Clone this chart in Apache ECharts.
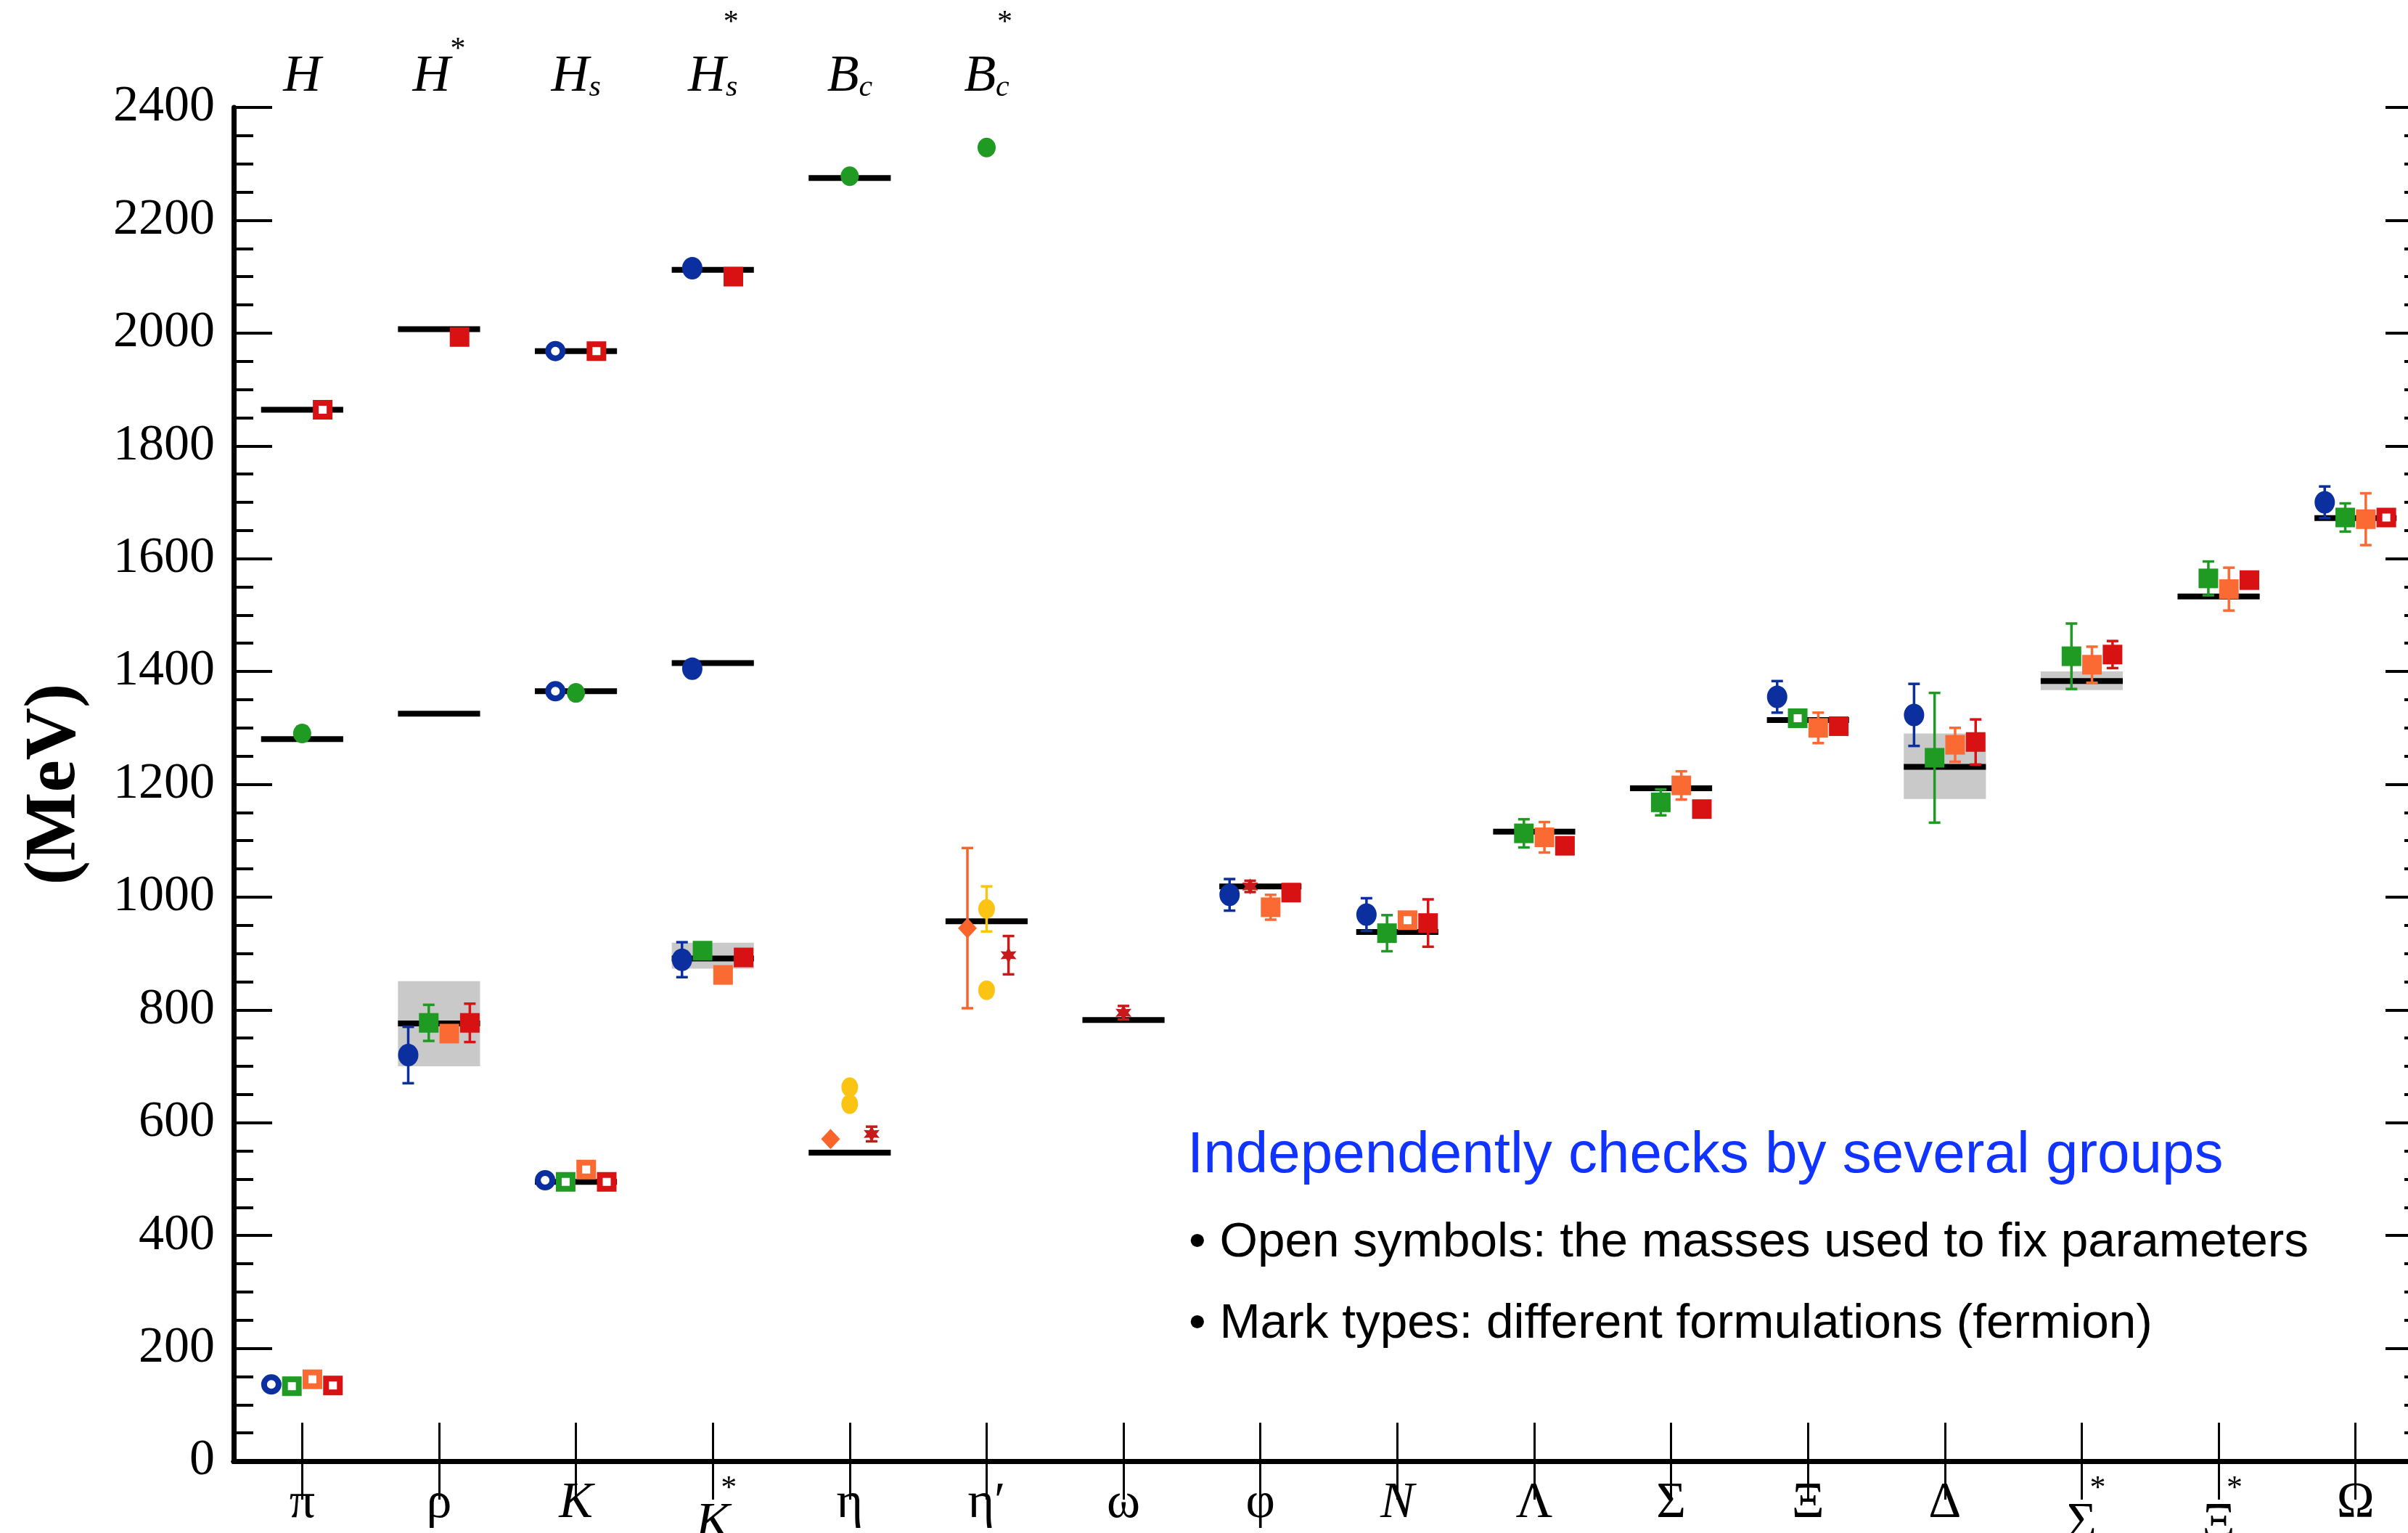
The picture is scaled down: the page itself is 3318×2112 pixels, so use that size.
<!DOCTYPE html>
<html>
<head>
  <meta charset="utf-8">
  <title>Hadron spectrum</title>
  <script src="https://cdn.jsdelivr.net/npm/echarts@6/dist/echarts.min.js"></script>
  <style>
    html, body { margin: 0; padding: 0; background: #fff; }
    #chart { width: 3318px; height: 2112px; }
  </style>
</head>
<body>
  <div id="chart"></div>
  <script>
    // bottom axis: light hadrons
    const catNames = ['π', 'ρ', 'K', 'K', 'η', 'η′', 'ω', 'φ', 'N', 'Λ', 'Σ', 'Ξ', 'Δ', 'Σ', 'Ξ', 'Ω'];
    const catStars = ['', '', '', '*', '', '', '', '', '', '', '', '', '', '*', '*', ''];
    const catItalic = [0, 0, 1, 1, 0, 0, 0, 0, 1, 0, 0, 0, 0, 0, 0, 0];
    // top axis: heavy-quark states
    const heavyNames = ['H', 'H', 'H', 'H', 'B', 'B'];
    const heavySubs = ['', '', 's', 's', 'c', 'c'];
    const heavyStars = ['', '*', '', '*', '', '*'];

    // experimental masses [category, MeV]
    const expBars = [
      [1, 1864], [1, 1280], [2, 2007], [2, 1325], [2, 776], [3, 1968], [3, 1365], [3, 495],
      [4, 2112], [4, 1415], [4, 891], [5, 2275], [5, 547], [6, 957], [7, 782], [8, 1019],
      [9, 938], [10, 1116], [11, 1193], [12, 1314], [13, 1231], [14, 1383], [15, 1533], [16, 1672]
    ];
    // resonance widths [category, low, high]
    const bands = [[2, 700, 851], [4, 873, 919], [13, 1174, 1290], [14, 1367, 1400]];

    // lattice results [category, MeV, error, open symbol]
    const blueLight = [
      [1, 136, 0, 1], [2, 720, 50, 0], [3, 498, 0, 1], [4, 889, 31, 0], [8, 1004, 28, 0],
      [9, 969, 29, 0], [12, 1355, 28, 0], [13, 1323, 55, 0], [16, 1700, 28, 0]
    ];
    const blueHeavy = [[3, 1968, 0, 1], [3, 1365, 0, 1], [4, 2115, 0, 0], [4, 1405, 0, 0]];
    const greenLight = [
      [1, 133, 0, 1], [2, 777, 32, 0], [3, 495, 0, 1], [4, 905, 8, 0], [9, 936, 32, 0],
      [10, 1113, 25, 0], [11, 1168, 23, 0], [12, 1317, 0, 1], [13, 1247, 115, 0],
      [14, 1427, 58, 0], [15, 1565, 30, 0], [16, 1673, 25, 0]
    ];
    const greenHeavy = [[1, 1290, 12, 0], [3, 1362, 0, 0], [5, 2278, 0, 0], [6, 2329, 0, 0]];
    const orangeLight = [
      [1, 145, 0, 1], [2, 758, 0, 0], [3, 517, 0, 1], [4, 862, 10, 0], [8, 982, 22, 0],
      [9, 959, 0, 1], [10, 1106, 27, 0], [11, 1198, 25, 0], [12, 1300, 27, 0],
      [13, 1270, 30, 0], [14, 1412, 32, 0], [15, 1546, 38, 0], [16, 1670, 46, 0]
    ];
    const redLight = [
      [1, 134, 0, 1], [2, 777, 34, 0], [3, 495, 0, 1], [4, 893, 0, 0], [8, 1008, 0, 0],
      [9, 954, 42, 0], [10, 1091, 12, 0], [11, 1156, 10, 0], [12, 1303, 8, 0],
      [13, 1275, 40, 0], [14, 1430, 24, 0], [15, 1562, 8, 0], [16, 1673, 0, 1]
    ];
    const redHeavy = [[1, 1864, 0, 1], [2, 1993, 0, 0], [3, 1968, 0, 1], [4, 2100, 0, 0]];
    const yellowPts = [[5, 663, 0, 0], [5, 633, 0, 0], [6, 979, 40, 0], [6, 835, 0, 0]];
    const diamondPts = [[5, 571, 0, 0], [6, 945, 142, 0]];
    const starEta = [[5, 580, 13, 0], [6, 897, 34, 0]];
    const starOmega = [[7, 795, 12, 0]];
    const starPhi = [[8, 1019, 10, 0]];

    const SERIF = 'Liberation Serif';
    const SANS = 'Liberation Sans';
    const starPath = 'path://M0,-10 L2.6,-4.5 L8.7,-5 L5.2,0 L8.7,5 L2.6,4.5 L0,10 L-2.6,4.5 L-8.7,5 L-5.2,0 L-8.7,-5 L-2.6,-4.5 Z';

    const groups = [
      { pts: blueLight, off: -0.225, color: '#0b2f9e', symbol: 'circle', size: [28, 31] },
      { pts: blueHeavy, off: -0.15, color: '#0b2f9e', symbol: 'circle', size: [28, 31] },
      { pts: greenLight, off: -0.075, color: '#1f9a22', symbol: 'rect', size: 27 },
      { pts: greenHeavy, off: 0, color: '#1f9a22', symbol: 'circle', size: [25, 27] },
      { pts: orangeLight, off: 0.075, color: '#fb6a32', symbol: 'rect', size: 27 },
      { pts: redLight, off: 0.225, color: '#d81212', symbol: 'rect', size: 27 },
      { pts: redHeavy, off: 0.15, color: '#d81212', symbol: 'rect', size: 27 },
      { pts: yellowPts, off: 0, color: '#fbc412', symbol: 'circle', size: [23, 27] },
      { pts: diamondPts, off: -0.14, color: '#f8642c', symbol: 'diamond', size: [26, 28] },
      { pts: starEta, off: 0.16, color: '#c81a1a', symbol: starPath, size: 22 },
      { pts: starOmega, off: 0, color: '#c81a1a', symbol: starPath, size: 22 },
      { pts: starPhi, off: -0.075, color: '#c81a1a', symbol: starPath, size: 22 }
    ];

    const chart = echarts.init(document.getElementById('chart'));

    function errRender(color) {
      return function (params, api) {
        const x = api.value(0), y = api.value(1), e = api.value(2);
        const a = api.coord([x, y + e]);
        const b = api.coord([x, y - e]);
        const st = { stroke: color, lineWidth: 3.5 };
        return {
          type: 'group',
          children: [
            { type: 'line', shape: { x1: a[0], y1: a[1], x2: b[0], y2: b[1] }, style: st },
            { type: 'line', shape: { x1: a[0] - 8, y1: a[1], x2: a[0] + 8, y2: a[1] }, style: st },
            { type: 'line', shape: { x1: b[0] - 8, y1: b[1], x2: b[0] + 8, y2: b[1] }, style: st }
          ]
        };
      };
    }

    const series = [];
    // gray bands
    series.push({
      type: 'custom',
      z: 1,
      data: bands,
      encode: { x: 0, y: 1 },
      renderItem: function (params, api) {
        const c = api.value(0);
        const p1 = api.coord([c - 0.3, api.value(2)]);
        const p2 = api.coord([c + 0.3, api.value(1)]);
        return {
          type: 'rect',
          shape: { x: p1[0], y: p1[1], width: p2[0] - p1[0], height: p2[1] - p1[1] },
          style: { fill: '#c9c9c9' }
        };
      }
    });
    // experiment
    series.push({
      type: 'custom',
      z: 2,
      data: expBars,
      encode: { x: 0, y: 1 },
      renderItem: function (params, api) {
        const c = api.value(0), m = api.value(1);
        const p1 = api.coord([c - 0.3, m]);
        const p2 = api.coord([c + 0.3, m]);
        return {
          type: 'line',
          shape: { x1: p1[0], y1: p1[1], x2: p2[0], y2: p2[1] },
          style: { stroke: '#000', lineWidth: 8 }
        };
      }
    });

    groups.forEach(function (g) {
      const errs = g.pts.filter(p => p[2] > 0).map(p => [p[0] + g.off, p[1], p[2]]);
      if (errs.length) {
        series.push({
          type: 'custom',
          z: 3,
          data: errs,
          encode: { x: 0, y: 1 },
          renderItem: errRender(g.color)
        });
      }
      series.push({
        type: 'scatter',
        z: 4,
        symbol: g.symbol,
        symbolSize: g.size,
        data: g.pts.map(function (p) {
          if (p[3]) {
            const open = g.symbol === 'circle' ? 20 : 19;
            return {
              value: [p[0] + g.off, p[1]],
              symbolSize: open,
              itemStyle: { color: '#fff', borderColor: g.color, borderWidth: 8 }
            };
          }
          return { value: [p[0] + g.off, p[1]] };
        }),
        itemStyle: { color: g.color, opacity: 1 }
      });
    });

    const catIdx = catNames.map((n, i) => i + 1);
    const heavyIdx = heavyNames.map((n, i) => i + 1);

    const axisLineStyle = { color: '#000', width: 7 };

    chart.setOption({
      animation: false,
      backgroundColor: '#fff',
      // the right frame of the original plot sits just past the picture edge
      grid: { left: 322, top: 148, width: 3018, height: 1865, outerBoundsMode: 'none' },
      xAxis: [
        {
          type: 'value', position: 'bottom', min: 0.5, max: 16.5,
          splitLine: { show: false },
          axisLine: { lineStyle: axisLineStyle },
          axisTick: { inside: true, length: 53, lineStyle: { color: '#000', width: 3 }, customValues: catIdx },
          axisLabel: {
            customValues: catIdx,
            margin: 24,
            formatter: function (v) {
              const i = Math.round(v) - 1;
              const base = (catItalic[i] ? '{i|' : '{r|') + catNames[i] + '}';
              return catStars[i] ? '{p|*}\n' + base : base;
            },
            rich: {
              r: { fontFamily: SERIF, fontSize: 70, color: '#000' },
              i: { fontFamily: SERIF, fontStyle: 'italic', fontSize: 70, color: '#000' },
              p: { fontFamily: SERIF, fontSize: 44, color: '#000', padding: [0, 0, 0, 44], lineHeight: 28 }
            }
          }
        },
        {
          type: 'value', position: 'top', min: 0.5, max: 16.5,
          splitLine: { show: false },
          axisLine: { lineStyle: axisLineStyle },
          axisTick: { inside: true, length: 53, lineStyle: { color: '#000', width: 3 }, customValues: catIdx },
          axisLabel: {
            customValues: heavyIdx,
            margin: 6,
            formatter: function (v) {
              const i = Math.round(v) - 1;
              const sub = heavySubs[i] ? '{s|' + heavySubs[i] + '}' : '';
              if (heavyStars[i] && heavySubs[i]) {
                return '{p|*}\n{b|' + heavyNames[i] + '}' + sub;
              }
              if (heavyStars[i]) {
                return '{bt|' + heavyNames[i] + '}{q|*}';
              }
              return '{b|' + heavyNames[i] + '}' + sub;
            },
            rich: {
              b: { fontFamily: SERIF, fontStyle: 'italic', fontSize: 72, color: '#000', verticalAlign: 'bottom' },
              bt: { fontFamily: SERIF, fontStyle: 'italic', fontSize: 72, color: '#000', verticalAlign: 'bottom', padding: [22, 0, 0, 0] },
              s: { fontFamily: SERIF, fontStyle: 'italic', fontSize: 42, color: '#000', verticalAlign: 'bottom' },
              q: { fontFamily: SERIF, fontSize: 42, color: '#000', verticalAlign: 'top' },
              p: { fontFamily: SERIF, fontSize: 42, color: '#000', padding: [0, 0, 0, 50], lineHeight: 76 }
            }
          }
        }
      ],
      yAxis: [
        {
          type: 'value', position: 'left', min: 0, max: 2400, interval: 200,
          name: '(MeV)', nameLocation: 'middle', nameGap: 196,
          nameTextStyle: { fontFamily: SERIF, fontWeight: 'bold', fontSize: 100, color: '#000' },
          splitLine: { show: false },
          axisLine: { lineStyle: axisLineStyle },
          axisTick: { inside: true, length: 53, lineStyle: { color: '#000', width: 4 } },
          minorTick: { show: true, splitNumber: 4, length: 27, lineStyle: { color: '#000', width: 4 } },
          axisLabel: { fontFamily: SERIF, fontSize: 70, color: '#000', margin: 26, formatter: v => String(v) }
        },
        {
          type: 'value', position: 'right', min: 0, max: 2400, interval: 200,
          splitLine: { show: false },
          axisLine: { lineStyle: axisLineStyle },
          axisTick: { inside: true, length: 53, lineStyle: { color: '#000', width: 4 } },
          minorTick: { show: true, splitNumber: 4, length: 27, lineStyle: { color: '#000', width: 4 } },
          axisLabel: { show: false }
        }
      ],
      graphic: [
        {
          type: 'text', x: 1636, y: 1593,
          style: { text: 'Independently checks by several groups', fontFamily: SANS, fontSize: 80, fill: '#1033ff', verticalAlign: 'middle' }
        },
        {
          type: 'text', x: 1638, y: 1712,
          style: { text: '• Open symbols: the masses used to fix parameters', fontFamily: SANS, fontSize: 67.5, fill: '#000', verticalAlign: 'middle' }
        },
        {
          type: 'text', x: 1638, y: 1824,
          style: { text: '• Mark types: different formulations (fermion)', fontFamily: SANS, fontSize: 67.5, fill: '#000', verticalAlign: 'middle' }
        }
      ],
      series: series
    });
  </script>
</body>
</html>
